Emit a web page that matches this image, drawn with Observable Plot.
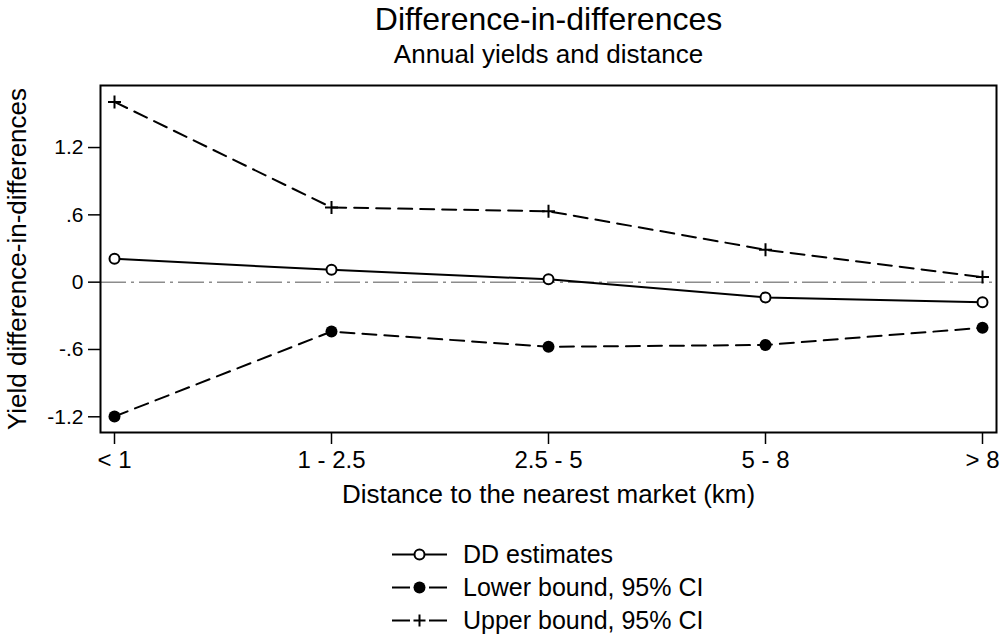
<!DOCTYPE html>
<html><head><meta charset="utf-8">
<script src="https://cdn.jsdelivr.net/npm/d3@7"></script>
<script src="https://cdn.jsdelivr.net/npm/@observablehq/plot@0.6"></script>
<style>
body{margin:0;background:#fff;}
#chart{position:relative;width:1003px;height:637px;font-family:"Liberation Sans",Arial,sans-serif;background:#fff;}
#chart svg{display:block;}
#legend{position:absolute;left:0;top:520px;}
</style></head><body><div id="chart"></div>
<script>
const categories = ["< 1", "1 - 2.5", "2.5 - 5", "5 - 8", "> 8"];
const ddEstimates = [0.208, 0.110, 0.025, -0.136, -0.180];
const lowerBound = [-1.197, -0.440, -0.576, -0.560, -0.406];
const upperBound = [1.607, 0.666, 0.632, 0.289, 0.045];
const yTicks = [-1.2, -0.6, 0, 0.6, 1.2];
const seriesNames = ["DD estimates", "Lower bound, 95% CI", "Upper bound, 95% CI"];
const titleText = "Difference-in-differences";
const subtitleText = "Annual yields and distance";
const xLabel = "Distance to the nearest market (km)";
const yLabel = "Yield difference-in-differences";

const toRows = vals => categories.map((c, i) => ({cat: c, v: vals[i]}));
const ddRows = toRows(ddEstimates);
const loRows = toRows(lowerBound);
const upRows = toRows(upperBound);

const plusSymbol = {
  draw(context, size) {
    const r = Math.sqrt(size / Math.PI);
    context.moveTo(-r, 0); context.lineTo(r, 0);
    context.moveTo(0, -r); context.lineTo(0, r);
  }
};
const fmtY = d => d === 0 ? "0" : String(d).replace(/^(-?)0\./, "$1.");

const chart = Plot.plot({
  width: 1003,
  height: 520,
  marginTop: 85,
  marginBottom: 88,
  marginLeft: 100,
  marginRight: 7,
  style: {fontFamily: '"Liberation Sans", Arial, sans-serif', background: "#fff", color: "#000"},
  x: {type: "point", domain: categories, padding: 0.064},
  y: {domain: [-1.34, 1.753]},
  marks: [
    Plot.ruleY([0], {stroke: "#8c8c8c", strokeWidth: 1.5, strokeDasharray: "26,5,3,5"}),
    Plot.line(ddRows, {x: "cat", y: "v", stroke: "#000", strokeWidth: 2}),
    Plot.line(loRows, {x: "cat", y: "v", stroke: "#000", strokeWidth: 2, strokeDasharray: "14,8"}),
    Plot.line(upRows, {x: "cat", y: "v", stroke: "#000", strokeWidth: 2, strokeDasharray: "14,8"}),
    Plot.dot(ddRows, {x: "cat", y: "v", r: 5, fill: "#fff", stroke: "#000", strokeWidth: 2}),
    Plot.dot(loRows, {x: "cat", y: "v", r: 6, fill: "#000", stroke: "none"}),
    Plot.dot(upRows, {x: "cat", y: "v", r: 6.5, symbol: plusSymbol, fill: "none", stroke: "#000", strokeWidth: 2}),
    Plot.frame({stroke: "#000", strokeWidth: 2}),
    Plot.axisX({tickSize: 12, tickPadding: 6, fontSize: 24, label: null, strokeWidth: 1.5}),
    Plot.axisY({ticks: yTicks, tickFormat: fmtY, tickSize: 12, tickPadding: 5, fontSize: 21, label: null, strokeWidth: 1.5}),
    Plot.text([titleText], {text: d => d, frameAnchor: "top", dy: -56, lineAnchor: "bottom", fontSize: 32, fill: "#000"}),
    Plot.text([subtitleText], {text: d => d, frameAnchor: "top", dy: -23, lineAnchor: "bottom", fontSize: 26, fill: "#000"}),
    Plot.text([xLabel], {text: d => d, frameAnchor: "bottom", dy: 70, lineAnchor: "bottom", fontSize: 26, fill: "#000"}),
    Plot.text([yLabel], {text: d => d, frameAnchor: "left", textAnchor: "middle", dx: -75, rotate: -90, lineAnchor: "bottom", fontSize: 26, fill: "#000"})
  ]
});
document.getElementById("chart").appendChild(chart);

// Legend
const legendDash = [null, "18,19", "18,19"];
const legend = d3.select("#chart").append("svg").attr("id", "legend").attr("width", 1003).attr("height", 117);
seriesNames.forEach((name, i) => {
  const cy = 34.5 + i * 33;
  const g = legend.append("g");
  const ln = g.append("line").attr("x1", 392).attr("x2", 447).attr("y1", cy).attr("y2", cy)
    .attr("stroke", "#000").attr("stroke-width", 2);
  if (legendDash[i]) ln.attr("stroke-dasharray", legendDash[i]);
  if (i === 0) g.append("circle").attr("cx", 419.5).attr("cy", cy).attr("r", 5).attr("fill", "#fff").attr("stroke", "#000").attr("stroke-width", 2);
  if (i === 1) g.append("circle").attr("cx", 419.5).attr("cy", cy).attr("r", 6).attr("fill", "#000");
  if (i === 2) g.append("path").attr("d", `M${413.5},${cy}H${425.5}M${419.5},${cy - 6}V${cy + 6}`).attr("stroke", "#000").attr("stroke-width", 2).attr("fill", "none");
  g.append("text").attr("x", 463).attr("y", cy + 8.5).attr("font-size", 25)
    .attr("font-family", '"Liberation Sans", Arial, sans-serif').attr("fill", "#000").text(name);
});
</script>
</body></html>
